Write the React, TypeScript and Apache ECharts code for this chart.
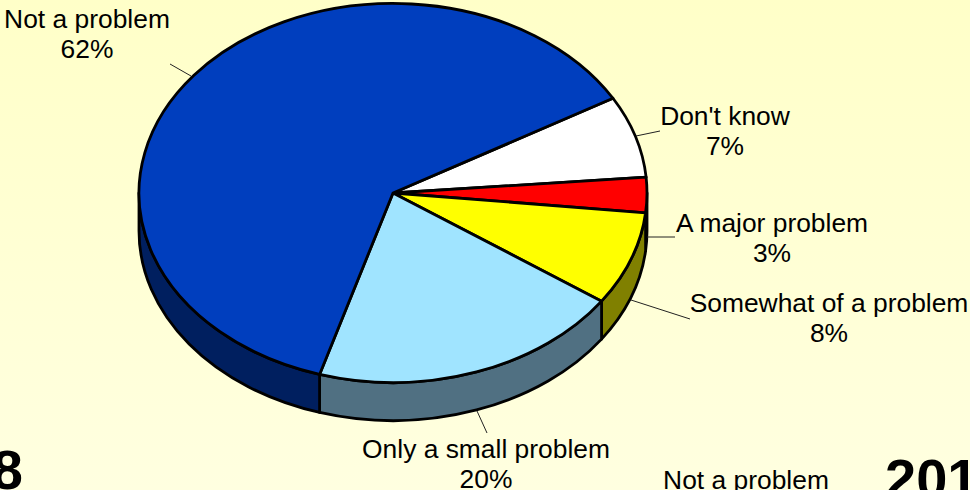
import React, { useEffect, useRef } from "react";
import * as echarts from "echarts";

// Survey shares, clockwise from the upper-right edge of the disc
const categories = ["Don't know", "A major problem", "Somewhat of a problem", "Only a small problem", "Not a problem"];
const shares = [7, 3, 8, 20, 62];
const topColors = ["#FFFFFF", "#FF0000", "#FFFF00", "#A0E4FF", "#003EBE"];
const wallColors = ["#808080", "#800000", "#808000", "#507082", "#001F5F"];

// Label anchor (centre of the text block) and leader line for each slice
const labelPlacement = [
  { x: 725, y: 131, line: [636, 136, 660, 131] },
  { x: 772, y: 238, line: [647, 237, 675, 237] },
  { x: 829, y: 318, line: [631, 300, 690, 319] },
  { x: 486, y: 464, line: [477, 411, 487, 433] },
  { x: 87, y: 34, line: [170, 64, 191, 76] },
];

// Disc geometry of the tilted pie
const CX = 393;
const CY = 193;
const RX = 254;
const RY = 189.5;
const DEPTH = 38;
const START_DEG = 30;
const FONT = "Arial, 'Liberation Sans', sans-serif";
const LABEL_SIZE = 26.4;

const total = shares.reduce((a, b) => a + b, 0);

// Start and end of a slice, in radians, running clockwise on screen
function sliceAngles(index: number): [number, number] {
  const before = shares.slice(0, index).reduce((a, b) => a + b, 0);
  const toRad = Math.PI / 180;
  const a0 = START_DEG * toRad - (before / total) * 2 * Math.PI;
  const a1 = a0 - (shares[index] / total) * 2 * Math.PI;
  return [a0, a1];
}

const px = (t: number) => CX + RX * Math.cos(t);
const py = (t: number, drop = 0) => CY - RY * Math.sin(t) + drop;

function topPath(a0: number, a1: number) {
  const large = a0 - a1 > Math.PI ? 1 : 0;
  return `M${CX} ${CY}L${px(a0)} ${py(a0)}A${RX} ${RY} 0 ${large} 1 ${px(a1)} ${py(a1)}Z`;
}

// Only the lower half of the rim faces the viewer
function wallPath(a0: number, a1: number) {
  const from = Math.min(a0, 0);
  const to = Math.max(a1, -Math.PI);
  if (from <= to) return null;
  const large = from - to > Math.PI ? 1 : 0;
  return (
    `M${px(from)} ${py(from)}L${px(from)} ${py(from, DEPTH)}` +
    `A${RX} ${RY} 0 ${large} 1 ${px(to)} ${py(to, DEPTH)}` +
    `L${px(to)} ${py(to)}A${RX} ${RY} 0 ${large} 0 ${px(from)} ${py(from)}Z`
  );
}

export default function App() {
  const ref = useRef<HTMLDivElement>(null);

  useEffect(() => {
    document.body.style.margin = "0";
    document.body.style.overflow = "hidden";
    const chart = echarts.init(ref.current!, undefined, { renderer: "svg" });
    const seriesData = shares.map((v, i) => ({ name: categories[i], value: v }));
    const outline = { stroke: "#000000", lineWidth: 2.8, lineJoin: "round" };

    chart.setOption({
      animation: false,
      backgroundColor: {
        type: "linear",
        x: 0,
        y: 0,
        x2: 0,
        y2: 1,
        colorStops: [
          { offset: 0, color: "#FFFFC8" },
          { offset: 1, color: "#FFFFE0" },
        ],
      },
      series: [
        {
          // Rim of the disc
          type: "custom",
          coordinateSystem: "none",
          data: seriesData,
          z: 1,
          silent: true,
          renderItem: (params: any) => {
            const i = params.dataIndex;
            const [a0, a1] = sliceAngles(i);
            const d = wallPath(a0, a1);
            if (!d) return null;
            return {
              type: "path",
              shape: { pathData: d },
              style: { fill: wallColors[i], ...outline },
            };
          },
        },
        {
          // Upper face of the disc
          type: "custom",
          coordinateSystem: "none",
          data: seriesData,
          z: 2,
          silent: true,
          renderItem: (params: any) => {
            const i = params.dataIndex;
            const [a0, a1] = sliceAngles(i);
            return {
              type: "path",
              shape: { pathData: topPath(a0, a1) },
              style: { fill: topColors[i], ...outline },
            };
          },
        },
        {
          // Leader lines and category labels
          type: "custom",
          coordinateSystem: "none",
          data: seriesData,
          z: 3,
          silent: true,
          renderItem: (params: any, api: any) => {
            const i = params.dataIndex;
            const place = labelPlacement[i];
            const [x1, y1, x2, y2] = place.line;
            return {
              type: "group",
              children: [
                {
                  type: "line",
                  shape: { x1, y1, x2, y2 },
                  style: { stroke: "#222222", lineWidth: 1 },
                },
                {
                  type: "text",
                  style: {
                    text: `${categories[i]}\n${api.value(0)}%`,
                    x: place.x,
                    y: place.y,
                    align: "center",
                    verticalAlign: "middle",
                    fill: "#000000",
                    font: `${LABEL_SIZE}px ${FONT}`,
                    lineHeight: 30,
                  },
                },
              ],
            };
          },
        },
      ],
      graphic: [
        {
          type: "text",
          style: { text: "8", x: 23, y: 469, align: "right", verticalAlign: "middle", fill: "#000", font: `bold 56px ${FONT}` },
        },
        {
          type: "text",
          style: { text: "201", x: 885, y: 478, align: "left", verticalAlign: "middle", fill: "#000", font: `bold 56px ${FONT}` },
        },
        {
          type: "text",
          style: { text: "Not a problem", x: 746, y: 480, align: "center", verticalAlign: "middle", fill: "#000", font: `${LABEL_SIZE}px ${FONT}` },
        },
      ],
    });
    return () => chart.dispose();
  }, []);

  return <div ref={ref} style={{ width: 970, height: 490 }} />;
}
